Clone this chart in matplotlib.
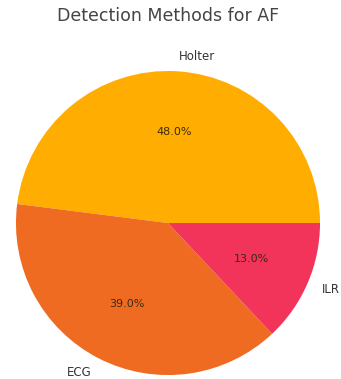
import matplotlib.pyplot as plt

# Data
methods = ['Holter', 'ECG', 'ILR']
shares = [48, 39, 13]
colors = ['#ffad00', '#f06b22', '#f2335a']

fig = plt.figure(figsize=(3.41, 3.79), dpi=100)
ax = fig.add_axes([0, 0, 1, 1])

wedges, texts, autotexts = ax.pie(
    shares, labels=methods, colors=colors, autopct='%1.1f%%',
    startangle=0, labeldistance=1.1,
    textprops={'fontsize': 8.5, 'color': '#333333'}
)
for t in autotexts:
    t.set_color('#3a2a10')
    t.set_fontsize(8)

ax.set_xlim(-1.105, 1.138)
ax.set_ylim(-1.026, 1.467)
ax.set_aspect('auto')
ax.axis('off')

ax.text(0.0, 1.36, 'Detection Methods for AF', ha='center', va='center',
        fontsize=12.5, color='#444444')

fig.savefig('out.png', dpi=100)
